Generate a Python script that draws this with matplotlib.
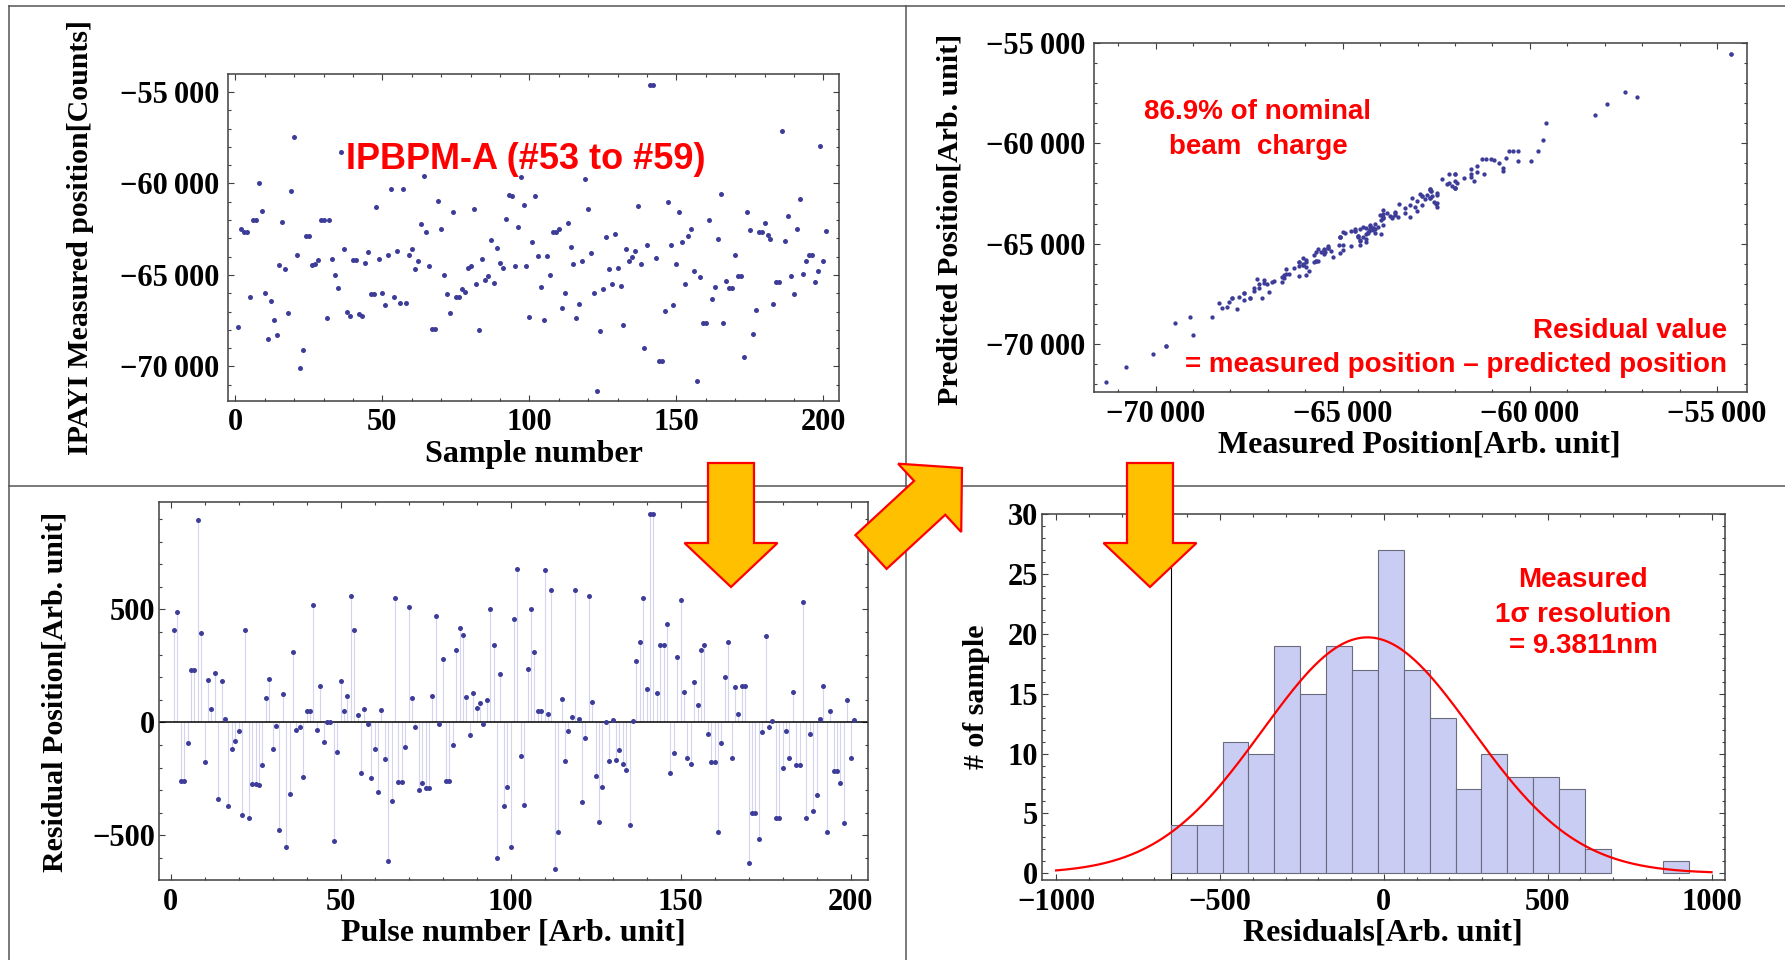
#!/usr/bin/env python3

import numpy as np
import matplotlib
matplotlib.use("Agg")
import matplotlib.pyplot as plt
from matplotlib.ticker import MultipleLocator, FuncFormatter
from matplotlib.patches import Polygon


# IPBPM-A measured position per sample [counts]
MEASURED = [
    -67830, -62480, -62630, -62630, -66180, -62010, -62010, -59980, -61490, -65980,
    -68480, -66430, -67480, -68300, -64460, -62090, -64660, -67100, -60440, -57460,
    -63930, -70080, -69080, -62880, -62880, -64460, -64390, -64200, -62010, -62010,
    -67360, -62010, -64130, -64980, -65710, -58260, -63610, -67030, -67230, -64190,
    -64190, -67160, -67230, -64330, -63730, -66050, -66050, -61290, -64130, -65980,
    -66630, -63930, -60310, -66180, -63680, -66510, -60310, -66510, -63930, -63610,
    -64660, -64260, -62210, -59580, -62680, -64530, -67960, -67960, -60960, -62500,
    -64980, -66050, -67100, -61560, -66180, -66180, -65780, -65910, -64600, -64530,
    -61410, -65510, -68030, -64130, -65260, -65060, -63080, -65460, -63530, -64330,
    -64600, -61960, -60640, -60710, -64530, -62360, -59640, -61160, -64530, -67300,
    -63210, -60710, -63990, -65650, -67480, -63990, -64980, -62680, -62680, -62480,
    -66830, -65980, -62160, -63500, -64390, -67360, -66580, -64260, -59780, -61410,
    -63810, -65980, -71330, -68080, -65780, -62940, -64660, -65510, -62740, -64600,
    -65580, -67760, -63610, -64260, -64010, -63680, -61230, -64390, -69010, -63340,
    -54620, -54620, -64060, -69730, -69730, -66960, -61030, -63340, -66630, -64390,
    -61560, -63210, -65510, -62880, -62480, -64790, -70800, -65110, -67630, -67630,
    -62010, -66310, -65650, -63010, -60560, -67630, -65310, -65710, -65710, -63930,
    -65060, -65060, -69480, -61560, -62560, -68230, -66900, -62680, -62680, -62160,
    -62810, -63010, -66580, -65380, -65380, -57140, -63140, -61760, -65060, -66050,
    -62480, -60830, -64930, -64260, -63930, -63930, -65380, -64790, -57940, -64260,
    -62610,
]

# residual = measured - predicted, per pulse [arb. unit]
RESIDUAL = [
    409, 488, -258, -258, -91, 232, 232, 897, 398, -177,
    187, 59, 220, -338, 183, 16, -370, -118, -81, -37,
    -409, 409, -423, -273, -273, -279, -187, 108, 193, -118,
    -15, -478, 124, -553, -317, 311, -32, -21, -242, 49,
    49, 521, -32, 161, -86, 0, 0, -527, -130, 183,
    49, 118, 559, 409, 32, -226, 59, -6, -248, -118,
    -307, 53, -161, -612, -350, 549, -263, -263, -108, 510,
    108, -22, -301, -268, -291, -291, 118, 472, -6, 279,
    -258, -258, -102, 322, 419, 386, 112, -55, 128, 65,
    86, -6, 97, 504, 344, -602, 215, -370, -285, -553,
    456, 681, -150, -364, 236, 504, 311, 49, 49, 677,
    37, 586, -650, -484, 102, -171, -37, 22, 586, 16,
    -354, -69, 559, 91, -236, -440, -285, 0, -171, 10,
    -167, -124, -183, -209, -456, 6, 274, 354, 553, 150,
    923, 923, 128, 344, 344, 435, -226, -134, 291, 543,
    134, -156, -183, 177, 75, 322, 344, -53, -177, -177,
    -484, -91, 199, 354, -156, 155, 37, 161, 161, -622,
    -403, -403, -515, -43, 381, -21, 6, -423, -423, -204,
    -37, -156, 134, -187, -187, 531, -423, -53, -392, -322,
    16, 161, -484, 49, -215, -215, -268, -445, 97, -156,
    10,
]

# histogram of residuals (20 bins)
HIST_START = -650
HIST_WIDTH = 79
HIST_COUNTS = [4, 4, 11, 10, 19, 15, 19, 17, 27, 17, 13, 7, 10, 8, 8, 7, 2, 0, 0, 1]

# gaussian fit drawn over the histogram
FIT_AMPLITUDE = 19.7
FIT_MEAN = -50
FIT_SIGMA = 320
FIT_RANGE = (-1000, 1000)

W, H = 1785, 960
SERIF = ["Liberation Serif", "DejaVu Serif"]
SANS = ["Liberation Sans", "DejaVu Sans"]
DOT = "#3d3d99"
RED = "#ff0000"
SPINE = "#404040"

plt.rcParams["font.family"] = SERIF
plt.rcParams["font.weight"] = "bold"
plt.rcParams["axes.labelweight"] = "bold"


def thousands(v, pos):
    sign = "\u2212" if v < 0 else ""
    v = int(round(abs(v)))
    if v >= 10000:
        return f"{sign}{v // 1000}\u2009{v % 1000:03d}"
    return f"{sign}{v}"


def add_panel(fig, left, top, right, bottom):
    return fig.add_axes([left / W, 1 - bottom / H, (right - left) / W, (bottom - top) / H])


def style_axes(ax, xticks, yticks, xpad, ypad):
    ax.xaxis.set_major_locator(MultipleLocator(xticks[0]))
    ax.xaxis.set_minor_locator(MultipleLocator(xticks[1]))
    ax.yaxis.set_major_locator(MultipleLocator(yticks[0]))
    ax.yaxis.set_minor_locator(MultipleLocator(yticks[1]))
    ax.xaxis.set_major_formatter(FuncFormatter(thousands))
    ax.yaxis.set_major_formatter(FuncFormatter(thousands))
    ax.tick_params(which="both", direction="in", top=True, right=True,
                   width=0.8, color=SPINE, labelsize=22)
    ax.tick_params(which="major", length=4.5)
    ax.tick_params(which="minor", length=2.5)
    ax.tick_params(axis="x", pad=xpad)
    ax.tick_params(axis="y", pad=ypad)
    for s in ax.spines.values():
        s.set_color(SPINE)
        s.set_linewidth(1.1)


def set_labels(ax, xlabel, ylabel, xpos, ypos):
    ax.set_xlabel(xlabel, fontsize=23)
    ax.set_ylabel(ylabel, fontsize=21.5)
    ax.xaxis.set_label_coords(*xpos)
    ax.yaxis.set_label_coords(*ypos)
    ax.xaxis.label.set_va("center")
    ax.yaxis.label.set_va("center")


def bold_ticklabels(ax):
    for lab in ax.get_xticklabels() + ax.get_yticklabels():
        lab.set_fontweight("bold")


def block_arrow(ax, tail, tip, shaft=46, head_w=93, head_l=44):
    tail = np.array(tail, float)
    tip = np.array(tip, float)
    u = (tip - tail) / np.linalg.norm(tip - tail)
    n = np.array([-u[1], u[0]])
    base = tip - u * head_l
    pts = [tail + n * shaft / 2, base + n * shaft / 2, base + n * head_w / 2, tip,
           base - n * head_w / 2, base - n * shaft / 2, tail - n * shaft / 2]
    ax.add_patch(Polygon(pts, closed=True, facecolor="#ffc000", edgecolor=RED,
                         linewidth=1.6, joinstyle="miter", zorder=5))


def main():
    measured = np.array(MEASURED, float)
    residual = np.array(RESIDUAL, float)
    sample = np.arange(1, len(measured) + 1)
    predicted = measured - residual

    fig = plt.figure(figsize=(W / 100, H / 100), dpi=100)
    fig.patch.set_facecolor("white")
    panels = []

    # top left: measured position vs sample
    ax = add_panel(fig, 228, 74, 839, 401)
    ax.plot(sample, measured, "o", ms=3.6, color=DOT, mec="none")
    ax.set_xlim(-2.5, 205.3)
    ax.set_ylim(-71890, -54020)
    style_axes(ax, (50, 10), (5000, 1000), 5, 6)
    set_labels(ax, "Sample number", "IPAYI Measured position[Counts]",
               (0.5, -0.165), (-0.242, 0.5))
    panels.append(ax)

    # top right: predicted vs measured
    ax = add_panel(fig, 1094, 43, 1747, 392)
    ax.plot(measured, predicted, "o", ms=3.1, color=DOT, mec="none")
    ax.set_xlim(-71643, -54201)
    ax.set_ylim(-72388, -55000)
    style_axes(ax, (5000, 1000), (5000, 1000), 5.5, 6.5)
    set_labels(ax, "Measured Position[Arb. unit]", "Predicted Position[Arb. unit]",
               (0.498, -0.152), (-0.221, 0.496))
    panels.append(ax)

    # bottom left: residual vs pulse
    ax = add_panel(fig, 159, 502, 868, 880)
    ax.vlines(sample, 0, residual, color="#d4d4ee", linewidth=0.8, zorder=1)
    ax.axhline(0, color="black", linewidth=1.1, zorder=2)
    ax.plot(sample, residual, "o", ms=3.6, color=DOT, mec="none", zorder=3)
    ax.set_xlim(-3.4, 205.1)
    ax.set_ylim(-698, 976)
    style_axes(ax, (50, 10), (500, 100), 5.5, 3)
    set_labels(ax, "Pulse number [Arb. unit]", "Residual Position[Arb. unit]",
               (0.5, -0.140), (-0.147, 0.497))
    panels.append(ax)

    # bottom right: histogram of residuals with gaussian fit
    ax = add_panel(fig, 1042, 514, 1725, 880)
    counts = np.array(HIST_COUNTS)
    edges = HIST_START + HIST_WIDTH * np.arange(len(counts))
    keep = counts > 0
    ax.bar(edges[keep], counts[keep], width=HIST_WIDTH, align="edge",
           color="#c9cdf3", edgecolor="#6b6b7e", linewidth=0.8, zorder=2)
    ax.axvline(HIST_START, color="black", linewidth=0.8, zorder=1)
    xs = np.linspace(FIT_RANGE[0], FIT_RANGE[1], 400)
    ax.plot(xs, FIT_AMPLITUDE * np.exp(-(xs - FIT_MEAN) ** 2 / (2 * FIT_SIGMA ** 2)),
            color=RED, linewidth=1.6, zorder=3)
    ax.set_xlim(-1043, 1041)
    ax.set_ylim(-0.56, 30)
    style_axes(ax, (500, 100), (5, 1), 6, 3)
    set_labels(ax, "Residuals[Arb. unit]", "# of sample",
               (0.499, -0.145), (-0.0966, 0.5))
    panels.append(ax)

    # overlay in pixel coordinates: frame lines, arrows, notes
    ov = fig.add_axes([0, 0, 1, 1])
    ov.set_xlim(0, W)
    ov.set_ylim(H, 0)
    ov.axis("off")
    ov.patch.set_alpha(0)
    line = dict(color="#555555", linewidth=1.1, zorder=1)
    ov.plot([9, W], [6, 6], **line)
    ov.plot([9, 9], [6, H], **line)
    ov.plot([9, W], [486, 486], **line)
    ov.plot([906, 906], [6, H], **line)

    block_arrow(ov, (731, 463), (731, 587))
    block_arrow(ov, (871, 552), (962, 468))
    block_arrow(ov, (1150, 463), (1150, 587))

    note = dict(color=RED, family=SANS, weight="bold", va="baseline")
    ov.text(526, 169, "IPBPM-A (#53 to #59)", fontsize=26, ha="center", **note)
    ov.text(1257, 119, "86.9% of nominal", fontsize=20, ha="center", **note)
    ov.text(1258, 154, "beam  charge", fontsize=20, ha="center", **note)
    ov.text(1727, 338, "Residual value", fontsize=20, ha="right", **note)
    ov.text(1727, 372, "= measured position \u2013 predicted position", fontsize=20,
            ha="right", **note)
    ov.text(1583, 587, "Measured", fontsize=20, ha="center", **note)
    ov.text(1583, 622, "1\u03c3 resolution", fontsize=20, ha="center", **note)
    ov.text(1583, 653, "= 9.3811nm", fontsize=20, ha="center", **note)

    fig.canvas.draw()
    for ax in panels:
        bold_ticklabels(ax)

    fig.savefig("out.png", dpi=100)
    plt.close(fig)


if __name__ == "__main__":
    main()
